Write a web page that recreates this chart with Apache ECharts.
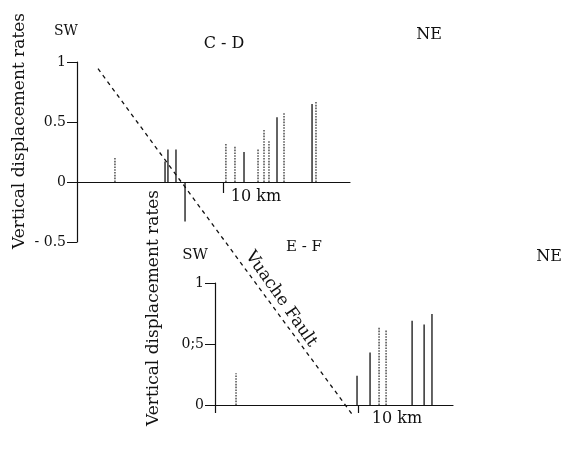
<!DOCTYPE html>
<html>
<head>
<meta charset="utf-8">
<script src="https://cdn.jsdelivr.net/npm/echarts@6/dist/echarts.min.js"></script>
<style>html,body{margin:0;padding:0;background:#fff}#c{width:563px;height:474px}</style>
</head>
<body>
<div id="c"></div>
<script>
// ---- Data: section C - D (top) ----
const cdKm    = [2.6, 6.03, 6.23, 6.78, 7.4, 10.2, 10.82, 11.44, 12.4, 12.81, 13.15, 13.7, 14.18, 16.1, 16.37];
const cdRate  = [0.2, 0.17, 0.27, 0.27, -0.33, 0.32, 0.30, 0.25, 0.275, 0.44, 0.34, 0.54, 0.575, 0.65, 0.675];
const cdDotted= [1, 0, 0, 0, 0, 1, 1, 0, 1, 1, 1, 0, 1, 0, 1];
// ---- Data: section E - F (bottom) ----
const efKm    = [1.47, 9.93, 10.84, 11.47, 11.96, 13.78, 14.62, 15.17];
const efRate  = [0.26, 0.24, 0.43, 0.64, 0.61, 0.69, 0.66, 0.745];
const efDotted= [1, 0, 0, 1, 1, 0, 0, 0];
// ---- Vuache Fault trace (in C - D axis units) ----
const faultKm   = [1.44, 21.92];
const faultRate = [0.944, -2.444];
// ---- Tick labels ----
const cdTickValues = [-0.5, 0, 0.5, 1];
const cdTickLabels = ['- 0.5', '0', '0.5', '1'];
const efTickValues = [0, 0.5, 1];
const efTickLabels = ['0', '0;5', '1'];
const scaleKm = 10;
const scaleLabel = '10 km';

const FONT = 'DejaVu Serif';
const INK = '#111';

function rows(km, rate, dotted) { return km.map((k, i) => [k, rate[i], dotted[i]]); }
function lookup(vals, labels) {
  return v => { const i = vals.findIndex(t => Math.abs(t - v) < 1e-9); return i >= 0 ? labels[i] : ''; };
}
function renderStick(params, api) {
  const x = api.value(0), v = api.value(1), d = api.value(2);
  const p0 = api.coord([x, 0]), p1 = api.coord([x, v]);
  return {
    type: 'line',
    shape: { x1: p0[0], y1: p0[1], x2: p1[0], y2: p1[1] },
    style: { stroke: d ? '#333' : INK, lineWidth: 1.3, lineDash: d ? [1.6, 1.2] : null }
  };
}

const chart = echarts.init(document.getElementById('c'), null, { renderer: 'canvas' });
const axisTxt = { fontFamily: FONT, fontSize: 14, color: INK };

function txt(x, y, text, size, rot) {
  return { type: 'text', x: x, y: y, rotation: rot || 0,
    style: { text: text, font: size + 'px "DejaVu Serif"', fill: INK, textAlign: 'center', textVerticalAlign: 'middle' } };
}

chart.setOption({
  backgroundColor: '#fff',
  animation: false,
  grid: [
    { left: 77, top: 62, width: 273, height: 180 },
    { left: 215, top: 283, width: 238, height: 122 }
  ],
  xAxis: [
    { gridIndex: 0, type: 'value', min: 0, max: 18.7,
      axisLine: { onZero: true, lineStyle: { color: INK, width: 1.2 } },
      axisTick: { show: true, customValues: [scaleKm], length: 11, lineStyle: { color: INK, width: 1.2 } },
      axisLabel: { show: false },
      splitLine: { show: false } },
    { gridIndex: 1, type: 'value', min: 0, max: 16.64,
      axisLine: { onZero: true, lineStyle: { color: INK, width: 1.2 } },
      axisTick: { show: true, customValues: [0, scaleKm], length: 8, lineStyle: { color: INK, width: 1.2 } },
      axisLabel: { show: false },
      splitLine: { show: false } }
  ],
  yAxis: [
    { gridIndex: 0, type: 'value', min: -0.5, max: 1, interval: 0.5,
      axisLine: { show: true, onZero: false, lineStyle: { color: INK, width: 1.2 } },
      axisTick: { show: true, length: 10, lineStyle: { color: INK, width: 1 } },
      axisLabel: Object.assign({ margin: 11, formatter: lookup(cdTickValues, cdTickLabels) }, axisTxt),
      splitLine: { show: false } },
    { gridIndex: 1, type: 'value', min: 0, max: 1, interval: 0.5,
      axisLine: { show: true, onZero: false, lineStyle: { color: INK, width: 1.2 } },
      axisTick: { show: true, length: 10, lineStyle: { color: INK, width: 1 } },
      axisLabel: Object.assign({ margin: 11, formatter: lookup(efTickValues, efTickLabels) }, axisTxt),
      splitLine: { show: false } }
  ],
  series: [
    { type: 'custom', xAxisIndex: 0, yAxisIndex: 0, renderItem: renderStick, data: rows(cdKm, cdRate, cdDotted), clip: false },
    { type: 'custom', xAxisIndex: 1, yAxisIndex: 1, renderItem: renderStick, data: rows(efKm, efRate, efDotted), clip: false },
    { type: 'line', xAxisIndex: 0, yAxisIndex: 0, clip: false, symbol: 'none', silent: true,
      data: faultKm.map((k, i) => [k, faultRate[i]]),
      lineStyle: { color: INK, width: 1.3, type: [4, 4] } }
  ],
  graphic: [
    txt(20, 131, 'Vertical displacement rates', 17, Math.PI / 2),
    txt(154, 308, 'Vertical displacement rates', 17, Math.PI / 2),
    txt(66, 31, 'SW', 14),
    txt(224, 44, 'C - D', 16),
    txt(429, 35, 'NE', 16),
    txt(195, 255, 'SW', 15),
    txt(304, 247, 'E - F', 15),
    txt(549, 257, 'NE', 16),
    txt(256, 197, scaleLabel, 16),
    txt(397, 419, scaleLabel, 16),
    txt(281, 299, 'Vuache Fault', 17, -0.96)
  ]
});
</script>
</body>
</html>
